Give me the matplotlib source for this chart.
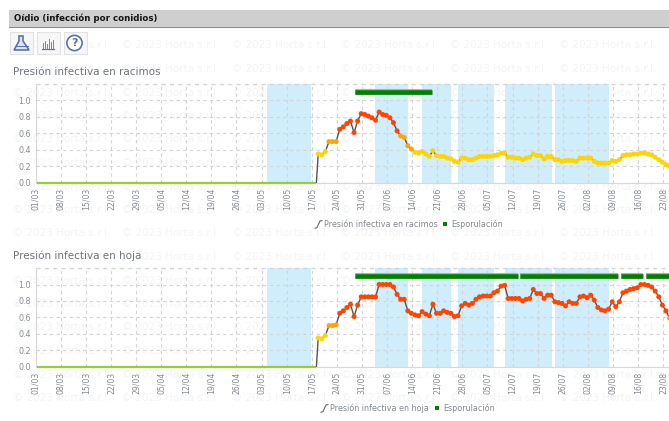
import matplotlib
matplotlib.use("Agg")
import matplotlib.pyplot as plt
from matplotlib.patches import Rectangle, Circle, Polygon

W, H = 669, 421
TICK_LABELS = ["01/03","08/03","15/03","22/03","29/03","05/04","12/04","19/04","26/04","03/05","10/05","17/05","24/05",
               "31/05","07/06","14/06","21/06","28/06","05/07","12/07","19/07","26/07","02/08","09/08","16/08","23/08"]
TICK_DAYS = list(range(0, 176, 7))
ZERO_DAYS = [d + 0.3 for d in range(0, 79)]
FIRST_DAY = 78.8

RACIMOS = [.35,.34,.38,.50,.50,.50,.65,.68,.72,.75,.61,.75,.84,.83,.81,.79,.76,.86,.83,.82,.79,.73,.63,.57,.55,.45,.41,.37,.36,.38,
           .35,.32,.39,.33,.32,.32,.30,.29,.26,.25,.30,.30,.28,.28,.30,.32,.32,.32,.32,.33,.34,.36,.36,.31,.31,.30,.30,.28,.30,.31,
           .35,.33,.33,.29,.32,.32,.28,.28,.26,.27,.27,.27,.26,.30,.30,.30,.30,.26,.24,.24,.24,.24,.27,.26,.28,.33,.34,.34,.35,.35,
           .36,.36,.35,.34,.31,.28,.25,.22,.20]
HOJA = [.35,.34,.38,.50,.50,.51,.65,.68,.72,.76,.61,.75,.85,.85,.85,.85,.85,1.0,1.0,1.0,1.0,.97,.88,.82,.82,.68,.65,.63,.62,.67,
        .64,.62,.76,.65,.65,.68,.66,.65,.61,.62,.74,.77,.75,.77,.82,.85,.86,.86,.86,.90,.92,.98,.99,.83,.83,.83,.83,.80,.82,.83,
        .94,.89,.89,.83,.87,.87,.79,.78,.77,.74,.79,.77,.77,.85,.86,.84,.87,.81,.72,.69,.68,.70,.79,.73,.79,.90,.92,.94,.95,.96,
        1.0,1.0,.99,.97,.92,.85,.75,.68,.59]
BANDS = [(64.5,76.9),(94.6,103.8),(107.7,115.8),(117.7,127.8),(130.8,143.9),(144.8,159.9)]
SPOR_RACIMOS = [(89.2,110.5)]
SPOR_HOJA = [(89.2,134.4),(135.1,162.4),(163.2,169.5),(170.2,178)]

GREY_TXT = "#858b91"
plt.rcParams["font.family"] = ["DejaVu Sans"]
fig = plt.figure(figsize=(W/100, H/100), dpi=100, facecolor="white")

# background / overlay in pixel coordinates
bg = fig.add_axes([0, 0, 1, 1], zorder=-1)
bg.set_xlim(0, W); bg.set_ylim(H, 0); bg.axis("off")
for y in [69 + 23.5*i for i in range(-1, 15)]:
    for x in [13, 122, 232, 341, 450, 559]:
        bg.text(x, y, "© 2023 Horta s.r.l.", fontsize=7.5, color="#f4f4f4", va="center", ha="left")

ov = fig.add_axes([0, 0, 1, 1], zorder=5)
ov.set_xlim(0, W); ov.set_ylim(H, 0); ov.axis("off"); ov.patch.set_alpha(0)
ov.add_patch(Rectangle((9, 10), 660, 17, fc="#cfcfcf", ec="none"))
ov.add_patch(Rectangle((9, 27), 660, 1.3, fc="#8a8a8a", ec="none"))
ov.text(14, 18.5, "Oídio (infección por conidios)", fontsize=6.2, fontweight="bold", color="#151515", va="center")
for x in (9.5, 36.5, 63.5):
    ov.add_patch(Rectangle((x, 32), 23, 22, fc="#f7f7f7", ec="#e2e2e2", lw=0.8))
BLUE = "#5b74ad"
ov.add_patch(Polygon([(19, 36), (23, 36), (23, 41), (29, 50), (14, 50), (19, 41)], fc="#dfe6f2", ec=BLUE, lw=1.2))
ov.plot([15.5, 27.5], [45.5, 45.5], color=BLUE, lw=0.8)
ov.plot([42, 54], [49, 49], color=BLUE, lw=0.9)
for x, h in zip((43, 45, 47, 49, 51, 53), (5, 7, 4, 9, 6, 8)):
    ov.plot([x, x], [47.5, 47.5 - h], color=BLUE, lw=0.6)
ov.add_patch(Circle((74.5, 43), 7.6, fc="white", ec=BLUE, lw=1.2))
ov.text(74.5, 43, "?", fontsize=8, fontweight="bold", color=BLUE, ha="center", va="center")

def panel(top, zero_y, title, title_y, values, spor, leg_name, lx):
    scale = 82.2
    xl = 35.7
    ymax = (zero_y - top) / scale
    ax = fig.add_axes([xl/W, 1 - zero_y/H, (W - xl)/W, (zero_y - top)/H], zorder=1)
    ax.patch.set_alpha(0)
    ax.set_xlim(0, (W - xl)/3.585)
    ax.set_ylim(0, ymax)
    for a, b in BANDS:
        ax.axvspan(a, b, color="#d0edfb", lw=0, zorder=1)
    ax.set_xticks(TICK_DAYS, TICK_LABELS, rotation=90, fontsize=5.6, color=GREY_TXT)
    ax.set_yticks([0, .2, .4, .6, .8, 1.0], ["0.0","0.2","0.4","0.6","0.8","1.0"], fontsize=5.8, color=GREY_TXT)
    ax.tick_params(length=0, pad=3.5)
    ax.grid(True, color="#d4d4d4", lw=0.8, ls=(0, (3, 3)), zorder=2)
    ax.set_axisbelow(False)
    ax.plot([ax.get_xlim()[0], ax.get_xlim()[1]], [ymax, ymax], color="#d4d4d4", lw=1.0, ls=(0, (3, 3)), clip_on=False, zorder=2)
    for s in ("top", "right"):
        ax.spines[s].set_visible(False)
    ax.spines["left"].set_color("#d8d8d8"); ax.spines["bottom"].set_color("#d8d8d8")
    days = [FIRST_DAY + i for i in range(len(values))]
    zeros = [0.0] * len(ZERO_DAYS)
    ax.plot(ZERO_DAYS[-1:] + days, zeros[-1:] + values, color="#555555", lw=1.0, zorder=3)
    ax.plot(ZERO_DAYS, zeros, color="#9acd32", lw=1.6, zorder=4, clip_on=False, solid_capstyle="butt")
    def col(v):
        return "#ffd500" if v < 0.4 else ("#ffa500" if v < 0.6 else "#ff4500")
    ax.scatter(days, values, c=[col(v) for v in values], s=13, lw=0, zorder=5, clip_on=True)
    yb = 1.105
    for a, b in spor:
        ax.plot([a, b], [yb, yb], color="#8fc98f", lw=4.4, solid_capstyle="butt", zorder=6)
        ax.plot([a, b], [yb, yb], color="#007f00", lw=3.3, solid_capstyle="butt", zorder=7)
    ov.text(13, title_y, title, fontsize=7.5, color="#6e767c", va="center")
    ly = zero_y + 41.5
    ov.plot([lx - 9, lx - 7, lx - 5.5, lx - 4, lx - 2], [ly + 4, ly + 3.4, ly, ly - 3.2, ly - 3.6], color="#666666", lw=0.8)
    ov.text(lx, ly, leg_name, fontsize=5.8, color=GREY_TXT, va="center")
    sq = lx + 121 if "racimos" in leg_name else lx + 107
    ov.add_patch(Rectangle((sq - 2, ly - 2), 4, 4, fc="#007f00", ec="none"))
    ov.text(sq + 6, ly, "Esporulación", fontsize=5.8, color=GREY_TXT, va="center")

panel(83.5, 182.7, "Presión infectiva en racimos", 72, RACIMOS, SPOR_RACIMOS, "Presión infectiva en racimos", 324)
panel(267.7, 366.7, "Presión infectiva en hoja", 256, HOJA, SPOR_HOJA, "Presión infectiva en hoja", 330)

fig.savefig("out.png", dpi=100)
